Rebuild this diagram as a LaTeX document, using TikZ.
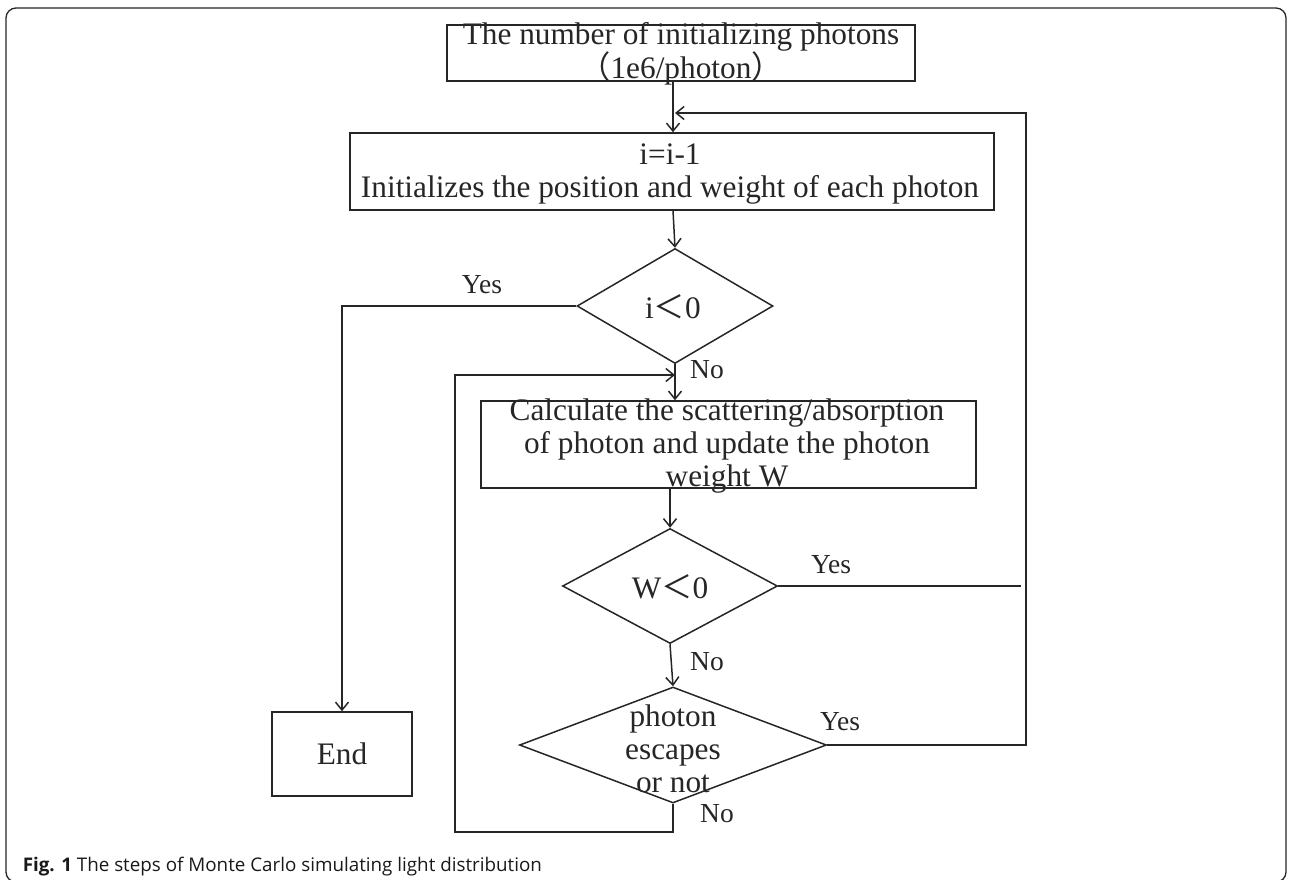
\documentclass[tikz,border=0pt]{standalone}
\usepackage{fontspec}
\setmainfont{Liberation Serif}
\newfontfamily\capfont{Open Sans}
\newfontfamily\cjk{Noto Sans CJK SC}
\usetikzlibrary{shapes.geometric,arrows.meta}
\begin{document}
\begin{tikzpicture}[x=1pt,y=-1pt, line width=1.5pt, color=black!85,
  every node/.style={inner sep=0pt, font=\fontsize{31.3}{33}\selectfont},
  blk/.style={draw, rectangle},
  dia/.style={draw, diamond},
  lbl/.style={font=\fontsize{27.5}{30}\selectfont},
  arr/.style={-{Straight Barb[length=8pt,width=13pt]}}]
\useasboundingbox (0,0) rectangle (1290,879);
\draw[line width=1.3pt, rounded corners=10pt] (6,8) rectangle (1286,882);

% boxes
\node[blk, minimum width=468pt, minimum height=56pt] (b1) at (681,53) {};
\node[align=center] (b1t) at (681,54) {The number of initializing photons\\{\cjk （}1e6/photon{\cjk ）}};
\node[blk, minimum width=644pt, minimum height=77pt] (b2) at (672,171.5) {};
\node[align=center] (b2t) at (670,174) {i=i-1\\Initializes the position and weight of each photon};
\node[dia, minimum width=196pt, minimum height=115pt] (d1) at (675,306) {};
\node (d1t) at (673,307) {i{\cjk ＜}0};
\node[blk, minimum width=495pt, minimum height=87pt] (b3) at (728.5,444.5) {};
\node[align=center] (b3t) at (727,446) {Calculate the scattering/absorption\\of photon and update the photon\\weight W};
\node[dia, minimum width=215pt, minimum height=115pt] (d2) at (670,586) {};
\node (d2t) at (670,587) {W{\cjk ＜}0};
\node[dia, minimum width=307pt, minimum height=116pt] (d3) at (673,745) {};
\node[align=center] (d3t) at (673,749) {photon\\escapes\\or not};
\node[blk, minimum width=140pt, minimum height=84pt] (en) at (342,754) {End};

% labels
\node[lbl] (l1) at (482,285) {Yes};
\node[lbl] (l2) at (707,370) {No};
\node[lbl] (l3) at (831,565) {Yes};
\node[lbl] (l4) at (707,662) {No};
\node[lbl] (l5) at (840,722) {Yes};
\node[lbl] (l6) at (717,814) {No};

% helper coordinates
\coordinate (ax) at (673,0);
\coordinate (rt) at (1026,113);
\coordinate (lf) at (455,375);
\coordinate (bl) at (455,832);
\coordinate (yl) at (342,306);
\coordinate (y2) at (1021,586);

% connectors
\draw[arr] (b1.south -| ax) -- (b2.north -| ax);
\draw[arr] (b2.south -| ax) -- (d1.north);
\draw[arr] (d1.south) -- (b3.north -| d1.south);
\draw[arr] (b3.south -| d2.north) -- (d2.north);
\draw[arr] (d2.south) -- (d3.north);
\draw[arr] (d1.west) -- (yl) -- (en.north);
\draw (d2.east) -- (y2);
\draw[arr] (d3.east) -- (d3.east -| rt) -- (rt) -- (rt -| d1.north);
\draw[arr] (d3.south) |- (bl) -- (lf) -- (lf -| d1.north);

% caption
\node[anchor=base west, font=\capfont\fontsize{18.8}{22}\selectfont, text=black!90] (cap) at (22,871) {\textbf{Fig. 1} The steps of Monte Carlo simulating light distribution};
\end{tikzpicture}
\end{document}
